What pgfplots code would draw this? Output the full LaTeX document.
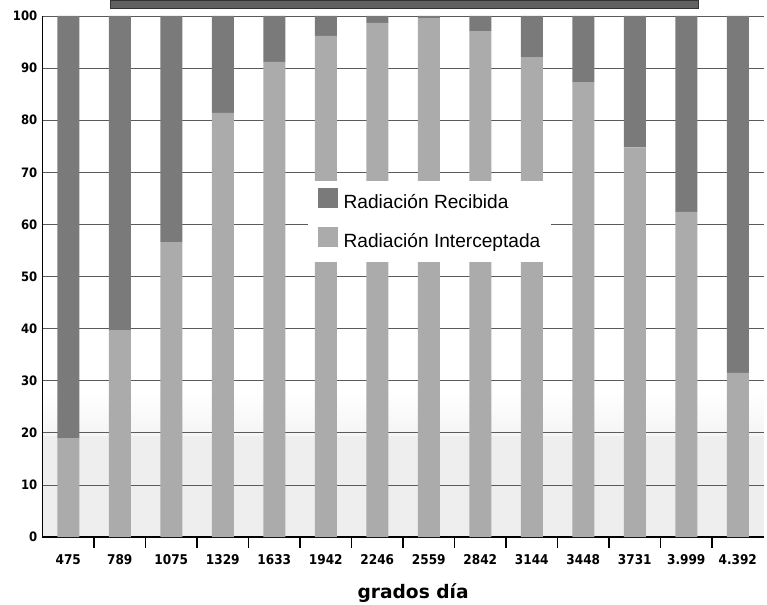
\documentclass[border=0pt]{standalone}
\usepackage{fontspec}
\setmainfont{Liberation Sans}
\newfontfamily\tickfont{DejaVu Sans}[FakeStretch=0.9]
\newfontfamily\labelfont{DejaVu Sans}
\usepackage{pgfplots}
\usepackage{pgfplotstable}
\pgfplotsset{compat=1.18}

\definecolor{recibida}{HTML}{7A7A7A}
\definecolor{intercep}{HTML}{ABABAB}
\definecolor{gridc}{HTML}{5A5A5A}

% Radiación interceptada / recibida (%) por grados día acumulados
\pgfplotstableread{
idx inter recib
0   19.0  81.0
1   39.6  60.4
2   56.6  43.4
3   81.4  18.6
4   91.2  8.8
5   96.2  3.8
6   98.7  1.3
7   99.6  0.4
8   97.1  2.9
9   92.1  7.9
10  87.3  12.7
11  74.8  25.2
12  62.4  37.6
13  31.5  68.5
}\radtable

\begin{document}
\begin{tikzpicture}
% fondo grisáceo en la parte baja del área de trazado
\fill[gray!13] (0bp,0bp) rectangle (721bp,101.6bp);
\shade[bottom color=gray!8, top color=white] (0bp,101.6bp) rectangle (721bp,146bp);
\begin{axis}[
  scale only axis, width=721bp, height=521bp,
  ybar stacked, bar width=22bp,
  xmin=-0.5, xmax=13.5, ymin=0, ymax=100,
  xtick={0,...,13},
  xticklabels={475,789,1075,1329,1633,1942,2246,2559,2842,3144,3448,3731,3.999,4.392},
  ytick={0,10,...,100},
  axis x line*=bottom, axis y line*=left,
  axis line style={black, line width=1.2bp, -},
  ymajorgrids, major grid style={gridc, line width=0.8bp},
  major tick length=0pt,
  extra x ticks={0.5,1.5,...,12.5}, extra x tick labels={},
  extra x tick style={major tick length=11bp, tick align=outside,
    tick style={black, line width=1.2bp}, grid=none},
  /pgf/number format/assume math mode=true,
  xticklabel style={font=\tickfont\bfseries\fontsize{13.5}{13.5}\selectfont,
    inner sep=0pt, anchor=base, yshift=-27bp},
  yticklabel style={font=\tickfont\bfseries\fontsize{13}{13}\selectfont,
    inner sep=0pt, xshift=-5bp},
  xlabel={grados día},
  xlabel style={font=\labelfont\bfseries\fontsize{18.7}{20}\selectfont,
    at={(axis description cs:0.514,0)}, anchor=base, yshift=-61bp},
  legend style={at={(0.3675,0.683)}, anchor=north west, fill=white, draw=none,
    font=\fontsize{19.2}{20}\selectfont, inner xsep=10bp, inner ysep=7bp,
    row sep=10bp, column sep=5bp,
    nodes={inner sep=1bp, text height=14bp, text depth=7bp}},
  legend cell align=left, reverse legend,
]
\addplot[fill=intercep, draw=none,
  legend image code/.code={\fill[intercep] (0bp,-3bp) rectangle (20bp,17bp);}]
  table[x=idx, y=inter]{\radtable};
\addlegendentry{Radiación Interceptada}
\addplot[fill=recibida, draw=none,
  legend image code/.code={\fill[recibida] (0bp,-3bp) rectangle (20bp,17bp);}]
  table[x=idx, y=recib]{\radtable};
\addlegendentry{Radiación Recibida}
\end{axis}
% banda del título
\fill[black!62, draw=black!80] (67.5bp,529bp) rectangle (655.5bp,537bp);
\pgfresetboundingbox
\path[use as bounding box] (-42.5bp,-68bp) rectangle (724.5bp,537bp);
\end{tikzpicture}
\end{document}
